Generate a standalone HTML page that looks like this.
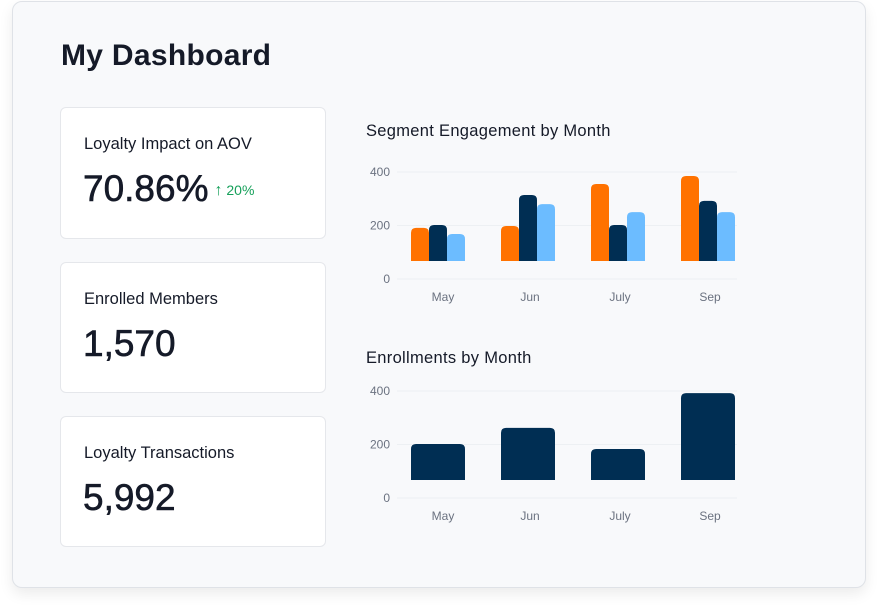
<!DOCTYPE html>
<html><head><meta charset="utf-8"><style>
body{margin:0;width:878px;height:612px;background:#fff;font-family:"Liberation Sans",sans-serif;position:relative;overflow:hidden}
.panel{position:absolute;left:12px;top:1px;width:852px;height:585px;background:#f8f9fb;border:1px solid #dfe2e7;border-radius:10px;box-shadow:0 6px 14px rgba(0,0,0,0.08)}
h1{position:absolute;left:61px;top:39px;margin:0;font-size:30px;font-weight:bold;color:#151a28;letter-spacing:0.3px}
.card{position:absolute;left:60px;width:264px;background:#fff;border:1px solid #e5e7eb;border-radius:6px}
.lbl{position:absolute;left:23px;top:27px;font-size:16.5px;color:#151a28}
.val{position:absolute;left:22px;top:60px;font-size:37px;color:#151a28;-webkit-text-stroke:0.6px #151a28}
.chg{color:#16a05a;font-size:14px;margin-left:6px;vertical-align:6px;-webkit-text-stroke:0}
.ct{position:absolute;left:366px;font-size:16.5px;color:#151a28;letter-spacing:0.3px}
</style></head><body>
<div class="panel"></div>
<h1>My Dashboard</h1>
<div class="card" style="top:107px;height:130px"><div class="lbl">Loyalty Impact on AOV</div><div class="val">70.86%<span class="chg"><b style="font-size:16px">↑</b> 20%</span></div></div>
<div class="card" style="top:262px;height:129px"><div class="lbl">Enrolled Members</div><div class="val">1,570</div></div>
<div class="card" style="top:416px;height:129px"><div class="lbl">Loyalty Transactions</div><div class="val">5,992</div></div>
<div class="ct" style="top:122px">Segment Engagement by Month</div>
<div class="ct" style="top:349px">Enrollments by Month</div>
<svg id="svg" width="878" height="612" style="position:absolute;left:0;top:0" font-family="Liberation Sans, sans-serif"></svg>
<script>
const months=["May","Jun","July","Sep"];
const seriesA=[191,198,355,385];
const seriesB=[202,314,202,292];
const seriesC=[168,280,250,250];
const enroll=[202,262,183,392];
const ticks=[0,200,400];
const colors=["#ff7200","#002e53","#6cbcff"];
const svg=document.getElementById('svg');
const NS="http://www.w3.org/2000/svg";
function mk(t,a){const e=document.createElementNS(NS,t);for(const k in a)e.setAttribute(k,a[k]);svg.appendChild(e);return e;}
function bx(i){return 393+90*i+45;}
function barPath(x,w,top,bot,r){if(bot-top<r)r=Math.max(0,bot-top);return `M${x},${bot}V${top+r}Q${x},${top} ${x+r},${top}H${x+w-r}Q${x+w},${top} ${x+w},${top+r}V${bot}Z`;}
function chart(y0,name,series,cols,bw){
  const y=v=>y0-v*0.2675;
  ticks.forEach(t=>{
    const l=mk('line',{x1:397,x2:737,y1:y(t),y2:y(t),stroke:'#edf0f3'});
    
    
    const tx=mk('text',{x:390,y:y(t)+4,'text-anchor':'end','font-size':12,fill:'#6b7280'});
    tx.textContent=t;
    
    
  });
  months.forEach((m,i)=>{
    const tx=mk('text',{x:bx(i)+(i==0?5:2),y:y0+22,'text-anchor':'middle','font-size':12,fill:'#6b7280'});
    tx.textContent=m;
    
    
    const n=series.length,start=bx(i)-n*bw/2;
    series.forEach((s,j)=>{
      const p=mk('path',{d:barPath(start+j*bw,bw,y(s[i]),y0-18,5),fill:cols[j]});
      
      
    });
  });
}
chart(279,'segment',[seriesA,seriesB,seriesC],colors,18);
chart(498,'enroll',[enroll],["#002e53"],54);
</script>
</body></html>
